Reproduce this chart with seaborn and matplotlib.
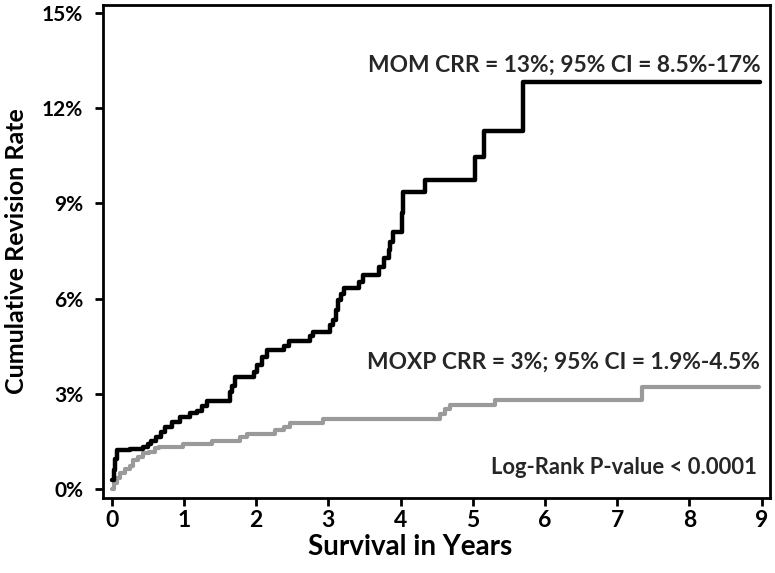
import matplotlib
matplotlib.use("Agg")
import matplotlib.pyplot as plt
import seaborn as sns
import pandas as pd
from matplotlib.ticker import FuncFormatter

# ---- data ----
mom_years = [0.0, 0.03, 0.05, 0.08, 0.25, 0.43, 0.50, 0.55, 0.62, 0.68, 0.74, 0.83, 0.95,
             1.08, 1.18, 1.25, 1.32, 1.64, 1.67, 1.71, 1.97, 2.01, 2.08, 2.15, 2.38, 2.45,
             2.75, 2.79, 3.02, 3.07, 3.10, 3.13, 3.18, 3.21, 3.42, 3.48, 3.70, 3.77, 3.84,
             3.86, 3.89, 4.02, 4.04, 4.34, 5.03, 5.15, 5.70, 8.98]
mom_rate = [0.28, 0.60, 0.95, 1.22, 1.26, 1.33, 1.42, 1.52, 1.65, 1.80, 1.97, 2.12, 2.26,
            2.39, 2.47, 2.62, 2.79, 3.05, 3.25, 3.52, 3.70, 3.91, 4.17, 4.38, 4.52, 4.68,
            4.83, 4.96, 5.17, 5.33, 5.65, 5.96, 6.15, 6.33, 6.54, 6.75, 7.01, 7.28, 7.54,
            7.80, 8.09, 8.70, 9.35, 9.75, 10.48, 11.29, 12.82, 12.82]

moxp_years = [0.0, 0.03, 0.07, 0.11, 0.18, 0.25, 0.30, 0.37, 0.44, 0.51, 0.60, 0.65, 0.99,
              1.39, 1.78, 1.87, 2.26, 2.38, 2.47, 2.93, 4.55, 4.62, 4.69, 5.31, 7.34, 8.96]
moxp_rate = [0.0, 0.18, 0.35, 0.50, 0.62, 0.73, 0.91, 1.02, 1.13, 1.18, 1.28, 1.33, 1.42,
             1.51, 1.63, 1.73, 1.86, 1.97, 2.09, 2.21, 2.36, 2.51, 2.65, 2.81, 3.21, 3.21]

x_ticks = [0, 1, 2, 3, 4, 5, 6, 7, 8, 9]
y_ticks = [0, 3, 6, 9, 12, 15]

mom_label = "MOM CRR = 13%; 95% CI = 8.5%-17%"
moxp_label = "MOXP CRR = 3%; 95% CI = 1.9%-4.5%"
pval_label = "Log-Rank P-value < 0.0001"
x_title = "Survival in Years"
y_title = "Cumulative Revision Rate"

df = pd.concat([
    pd.DataFrame({"years": mom_years, "rate": mom_rate, "group": "MOM"}),
    pd.DataFrame({"years": moxp_years, "rate": moxp_rate, "group": "MOXP"}),
], ignore_index=True)

sns.set_theme(style="white")
plt.rcParams["font.family"] = ["Lato", "DejaVu Sans"]
plt.rcParams["font.weight"] = "bold"

fig = plt.figure(figsize=(7.75, 5.73), dpi=100)
ax = fig.add_axes([0.1325, 0.131, 0.861, 0.860])

sns.lineplot(data=df[df.group == "MOXP"], x="years", y="rate", color="#9a9a9a",
             drawstyle="steps-post", estimator=None, linewidth=3.0, ax=ax, legend=False)
sns.lineplot(data=df[df.group == "MOM"], x="years", y="rate", color="#000000",
             drawstyle="steps-post", estimator=None, linewidth=3.2, ax=ax, legend=False)

ax.set_xlim(-0.125, 9.115)
ax.set_ylim(-0.28, 15.25)
ax.set_xticks(x_ticks)
ax.set_yticks(y_ticks)
ax.yaxis.set_major_formatter(FuncFormatter(lambda v, p: f"{v:.0f}%"))
ax.tick_params(axis="both", direction="out", length=6, width=2, color="black",
               labelcolor="black", bottom=True, left=True)
ax.tick_params(axis="x", labelsize=16.5, pad=3)
ax.tick_params(axis="y", labelsize=15, pad=8)
for lab in ax.get_xticklabels() + ax.get_yticklabels():
    lab.set_fontweight("bold")
for s in ax.spines.values():
    s.set_linewidth(2.0)
    s.set_color("black")

ax.set_xlabel(x_title, fontsize=20, fontweight="bold", color="black", labelpad=2, x=0.46)
ax.set_ylabel(y_title, fontsize=18, fontweight="bold", color="black", labelpad=10)

ax.text(8.98, 13.37, mom_label, ha="right", va="center", fontsize=16.4, fontweight="bold")
ax.text(8.98, 4.0, moxp_label, ha="right", va="center", fontsize=16.4, fontweight="bold")
ax.text(8.93, 0.69, pval_label, ha="right", va="center", fontsize=15.8, fontweight="bold")

fig.savefig("out.png", dpi=100)
